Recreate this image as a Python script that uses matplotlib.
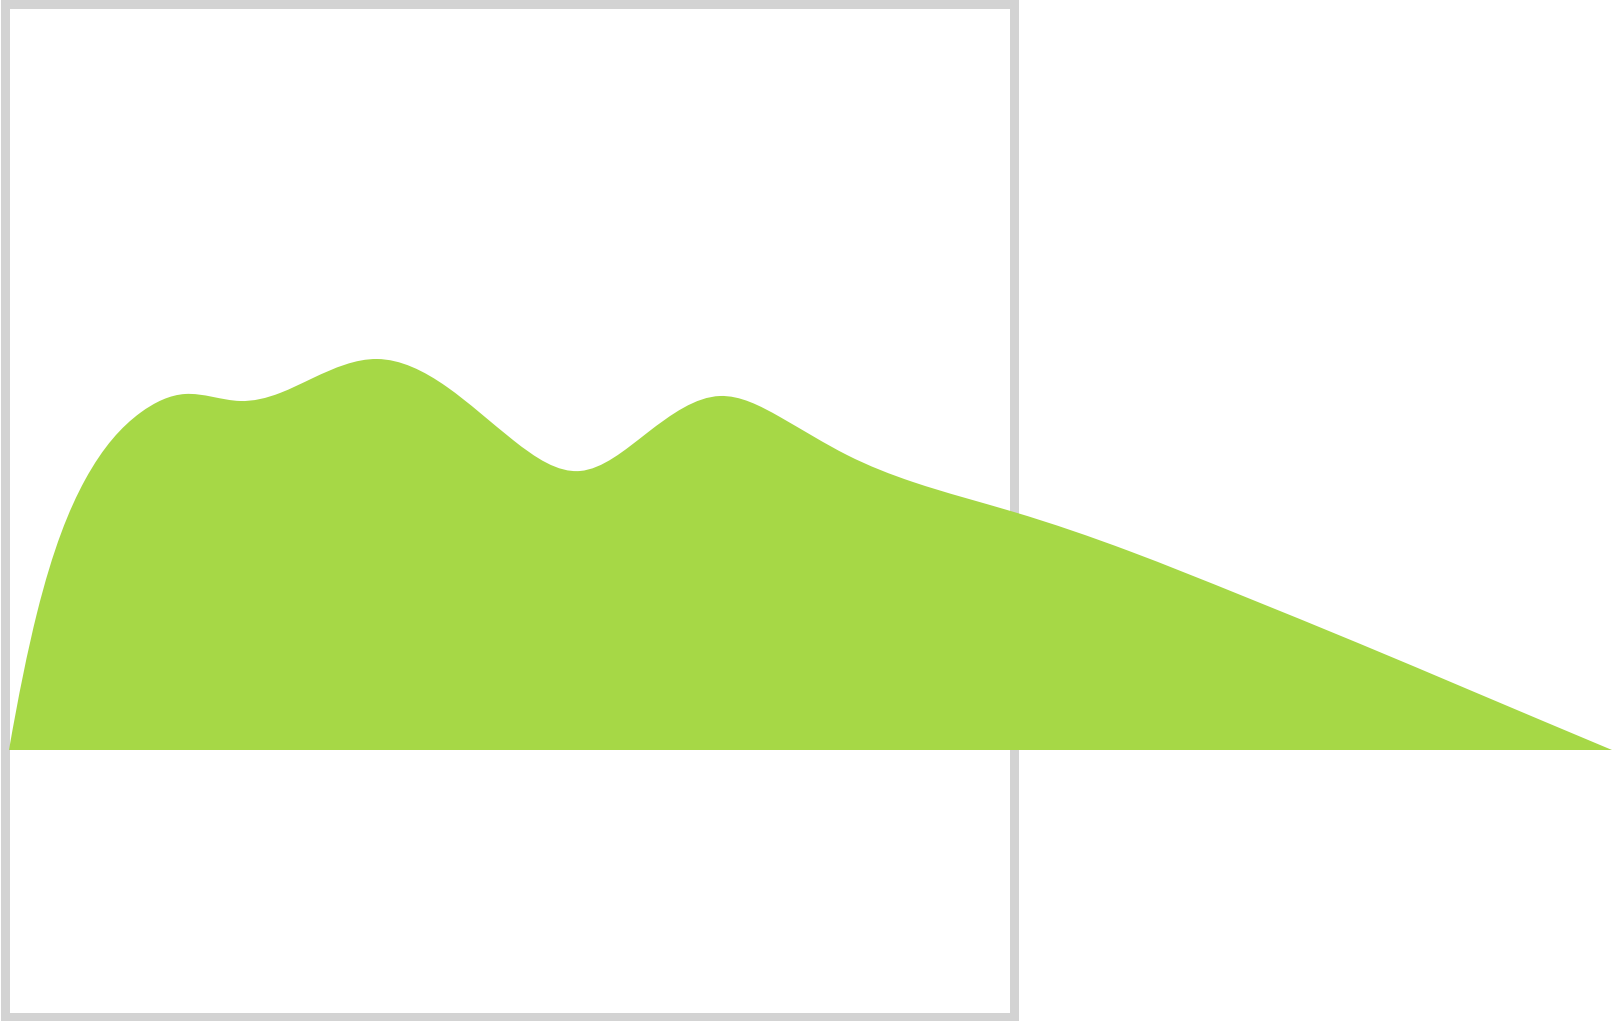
import matplotlib
matplotlib.use("Agg")
import matplotlib.pyplot as plt
import numpy as np
from matplotlib.path import Path
from matplotlib.patches import PathPatch, Rectangle

# points (x position, height above the baseline)
xs = [9, 37, 85, 140, 185, 240, 280, 313, 377, 447, 513, 580,
      647, 720, 780, 847, 913, 1014, 1129, 1243, 1358, 1472, 1612]
heights = [0, 137, 270, 337, 356, 349, 357, 372, 391, 363, 310, 279,
           317, 354, 333, 295, 268, 238, 199, 154, 107, 59, 0]

green = '#a6d846'
frame_color = '#d3d3d3'


def smooth_path(x, y):
    # cubic spline through the points (parabolic run-out ends), as bezier segments
    x = np.asarray(x, float)
    y = np.asarray(y, float)
    n = len(x)
    h = np.diff(x)
    d = np.diff(y) / h
    A = np.zeros((n, n))
    b = np.zeros(n)
    A[0, 0], A[0, 1] = 1, -1
    A[-1, -1], A[-1, -2] = 1, -1
    for i in range(1, n - 1):
        A[i, i - 1] = h[i - 1]
        A[i, i] = 2 * (h[i - 1] + h[i])
        A[i, i + 1] = h[i]
        b[i] = 6 * (d[i] - d[i - 1])
    M = np.linalg.solve(A, b)
    m = np.empty(n)
    m[:-1] = d - h * (2 * M[:-1] + M[1:]) / 6
    m[-1] = d[-1] + h[-1] * (M[-2] + 2 * M[-1]) / 6
    verts = [(x[0], y[0])]
    codes = [Path.MOVETO]
    for i in range(n - 1):
        s = h[i] / 3.0
        verts += [(x[i] + s, y[i] + m[i] * s),
                  (x[i + 1] - s, y[i + 1] - m[i + 1] * s),
                  (x[i + 1], y[i + 1])]
        codes += [Path.CURVE4] * 3
    verts.append((x[0], 0))
    codes.append(Path.LINETO)
    verts.append((x[0], 0))
    codes.append(Path.CLOSEPOLY)
    return Path(verts, codes)


fig = plt.figure(figsize=(16.14, 10.21), dpi=100, facecolor='white')
ax = fig.add_axes([0, 0, 1, 1])
ax.set_xlim(0, 1614)
ax.set_ylim(-271, 750)
ax.axis('off')

# grey frame box
ax.add_patch(Rectangle((4.5, -266.5), 1009, 1012, fill=False,
                       edgecolor=frame_color, linewidth=9 * 0.72,
                       joinstyle='miter', zorder=1))

# area
ax.add_patch(PathPatch(smooth_path(xs, heights), facecolor=green,
                       edgecolor='none', zorder=2))

plt.savefig("out.png", dpi=100, facecolor='white')
